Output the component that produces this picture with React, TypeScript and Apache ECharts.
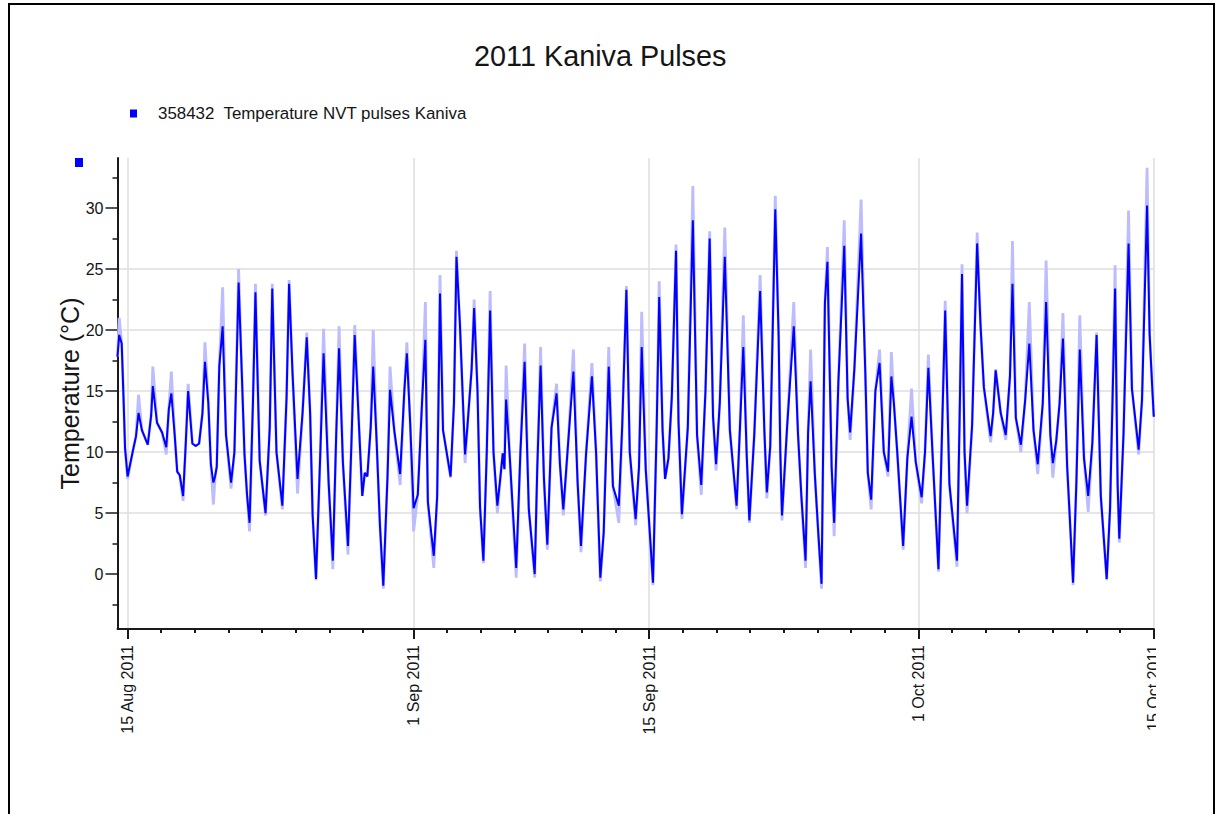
import React, { useEffect, useRef } from 'react';
import * as echarts from 'echarts';

// ---- texts ----
const chartTitle = '2011 Kaniva Pulses';
const seriesName = '358432  Temperature NVT pulses Kaniva';
const yAxisTitle = 'Temperature (°C)';

// ---- axis ticks (x in days since 15 Aug 2011 00:00) ----
const majorTickDays = [0, 17, 31, 47, 61];
const majorTickLabels = ['15 Aug 2011', '1 Sep 2011', '15 Sep 2011', '1 Oct 2011', '15 Oct 2011'];
const minorTickDays = [2, 4, 6, 8, 10, 12, 14, 19, 21, 23, 25, 27, 29, 33, 35, 37, 39, 41, 43, 45, 49, 51, 53, 55, 57, 59];
const yTickLabels = [0, 5, 10, 15, 20, 25, 30];

// ---- data: [day, temperature, pulse extreme (light trace, when it differs)] ----
const augTrace: number[][] = [
  [-0.6, 17.8], [-0.5, 19.6, 21.0], [-0.35, 18.9], [-0.25, 14.8], [-0.15, 10.3], [0.0, 8.0, 7.8], [0.3, 10.0], [0.5, 11.3],
  [0.65, 13.2, 14.7], [0.85, 11.8], [1.2, 10.6], [1.4, 13.0], [1.5, 15.4, 17.0], [1.75, 12.4], [2.05, 11.6], [2.3, 10.4, 9.8],
  [2.45, 13.5], [2.6, 14.8, 16.6], [2.8, 11.4], [2.95, 8.4], [3.1, 8.1], [3.3, 6.4, 6.0], [3.45, 10.5], [3.6, 15.0, 15.6],
  [3.85, 10.7], [4.05, 10.5], [4.25, 10.7], [4.45, 13.2], [4.6, 17.4, 19.0], [4.8, 14.0], [4.95, 9.0], [5.1, 7.5, 5.7],
  [5.2, 8.0], [5.3, 8.8], [5.45, 17.0], [5.65, 20.3, 23.5], [5.85, 11.4], [6.15, 7.5, 7.0], [6.35, 10.0], [6.6, 23.9, 25.0],
  [6.8, 16.0], [6.95, 9.8], [7.1, 6.5], [7.25, 4.2, 3.5], [7.45, 14.0], [7.6, 23.1, 23.8], [7.85, 9.3], [8.2, 5.0, 4.8],
  [8.45, 12.0], [8.6, 23.4, 23.8], [8.85, 10.0], [9.2, 5.6, 5.3], [9.45, 14.5], [9.6, 23.8, 24.1], [9.8, 16.6], [10.1, 7.8, 6.6],
  [10.4, 13.2], [10.65, 19.4, 19.8], [10.85, 13.2], [11.0, 4.8], [11.2, -0.4, -0.5], [11.45, 9.7], [11.65, 18.1, 20.1],
  [11.95, 7.5], [12.2, 1.1, 0.4], [12.4, 11.4], [12.57, 18.5, 20.3], [12.8, 9.1], [13.1, 2.3, 1.6], [13.3, 10.5],
  [13.5, 19.6, 20.4], [13.8, 10.8], [13.95, 6.4], [14.1, 8.3], [14.25, 8.0], [14.45, 12.0], [14.6, 17.0, 20.0], [14.8, 11.0],
  [15.0, 4.0], [15.2, -0.95, -1.2], [15.45, 8.0], [15.6, 15.1, 17.0], [15.85, 11.8], [16.2, 8.2, 7.3], [16.45, 15.0],
  [16.6, 18.1, 19.0], [16.8, 12.3],
];
const sepTrace1: number[][] = [
  [17.0, 5.4, 3.5], [17.25, 6.5], [17.5, 14.0], [17.7, 19.2, 22.3], [17.85, 5.9], [18.2, 1.5, 0.5], [18.4, 6.3],
  [18.57, 23.0, 24.5], [18.75, 11.8], [19.2, 8.0, 7.9], [19.4, 14.0], [19.55, 26.0, 26.5], [19.75, 20.6], [20.06, 9.8, 9.1],
  [20.2, 12.1], [20.45, 16.8], [20.6, 21.8, 22.5], [20.8, 15.0], [20.95, 5.5], [21.15, 1.1, 0.9], [21.35, 10.0],
  [21.55, 21.6, 23.2], [21.75, 10.0], [21.98, 5.6, 5.0], [22.15, 7.8], [22.3, 9.9], [22.4, 8.6], [22.5, 14.3, 17.1],
  [22.7, 10.0], [23.1, 0.5, -0.3], [23.35, 10.0], [23.6, 17.4, 18.9], [23.85, 5.3], [24.2, 0.0, -0.3], [24.35, 8.6],
  [24.55, 17.1, 18.6], [24.75, 7.8], [24.95, 2.4, 2.0], [25.2, 12.0], [25.5, 14.8, 15.6], [25.7, 9.0], [25.9, 5.3, 4.8],
  [26.2, 11.0], [26.5, 16.6, 18.4], [26.75, 7.5], [26.95, 2.3, 1.8], [27.25, 9.8], [27.6, 16.2, 17.3], [27.85, 9.9],
  [28.1, -0.3, -0.6], [28.3, 3.4], [28.6, 17.0, 18.6], [28.85, 7.2], [29.2, 5.6, 4.2], [29.4, 12.1], [29.65, 23.3, 23.6],
  [29.85, 10.0], [30.2, 4.5, 4.0], [30.4, 8.8], [30.56, 18.6, 21.5], [30.8, 8.6],
];
const sepTrace2: number[][] = [
  [31.23, -0.7, -0.9], [31.45, 12.0], [31.6, 22.7, 24.0], [31.8, 11.8], [31.95, 7.8], [32.15, 9.5], [32.35, 14.5],
  [32.6, 26.5, 27.0], [32.75, 12.4], [32.95, 4.9, 4.5], [33.3, 12.0], [33.6, 29.0, 31.8], [33.85, 11.4], [34.1, 7.3, 6.5],
  [34.35, 15.0], [34.6, 27.5, 28.1], [34.8, 12.9], [34.98, 9.0, 8.5], [35.2, 14.0], [35.5, 26.0, 28.4], [35.8, 11.8],
  [36.2, 5.6, 5.3], [36.4, 12.0], [36.6, 18.6, 21.2], [36.8, 9.8], [36.96, 4.4, 4.2], [37.25, 11.4], [37.6, 23.2, 24.5],
  [37.85, 11.8], [38.0, 6.7, 6.2], [38.2, 10.5], [38.5, 29.9, 31.0], [38.7, 19.5], [38.8, 9.9], [38.9, 4.8, 4.4],
  [39.2, 12.0], [39.6, 20.3, 22.3], [39.85, 11.5], [40.05, 6.4], [40.3, 1.1, 0.5], [40.45, 11.6], [40.6, 15.8, 18.4],
  [40.85, 8.2], [41.05, 3.5], [41.25, -0.8, -1.2], [41.45, 22.2], [41.6, 25.6, 26.8], [41.85, 8.8], [42.0, 4.2, 3.1],
  [42.25, 15.7], [42.6, 26.9, 29.0], [42.8, 14.4], [42.95, 11.6, 11.0], [43.2, 16.8], [43.6, 27.9, 30.7], [43.85, 16.6],
  [44.0, 8.3], [44.2, 6.1, 5.3], [44.45, 15.0], [44.7, 17.3, 18.4], [44.95, 10.0], [45.2, 8.4, 8.0], [45.4, 16.2, 18.2],
  [45.55, 14.0], [45.75, 10.0], [46.1, 2.3, 2.0], [46.35, 9.5], [46.6, 12.9, 15.2], [46.85, 9.2],
];
const octTrace: number[][] = [
  [47.2, 6.3, 5.8], [47.4, 10.0], [47.6, 16.9, 18.0], [47.85, 9.8], [48.2, 0.4, 0.2], [48.4, 11.0], [48.6, 21.6, 22.4],
  [48.85, 7.4], [49.3, 1.1, 0.6], [49.45, 12.2], [49.6, 24.6, 25.4], [49.75, 10.0], [49.9, 5.6, 5.0], [50.2, 12.2],
  [50.5, 27.1, 28.0], [50.7, 20.4], [50.9, 15.3], [51.3, 11.3, 10.8], [51.45, 13.2], [51.6, 16.7, 16.8], [51.9, 13.2],
  [52.2, 11.4, 11.0], [52.45, 16.2], [52.6, 23.8, 27.3], [52.8, 12.8], [53.1, 10.6, 10.0], [53.35, 14.2], [53.6, 18.9, 22.3],
  [53.85, 11.8], [54.1, 9.0, 8.2], [54.4, 14.0], [54.6, 22.3, 25.7], [54.85, 11.4], [55.0, 9.1, 7.9], [55.2, 10.9],
  [55.4, 14.0], [55.6, 19.3, 21.4], [55.85, 8.8], [56.0, 4.8], [56.2, -0.7, -0.9], [56.4, 7.6], [56.6, 18.4, 21.2],
  [56.85, 9.5], [57.1, 6.4, 5.1], [57.35, 10.8], [57.6, 19.6, 19.8], [57.85, 6.4], [58.2, -0.4, -0.5], [58.4, 5.4],
  [58.7, 23.4, 25.3], [58.85, 7.3], [58.95, 2.9, 2.6], [59.2, 11.5], [59.5, 27.1, 29.8], [59.7, 15.2], [60.1, 10.2, 9.8],
  [60.3, 14.3], [60.6, 30.2, 33.3], [60.75, 19.7], [60.9, 15.5], [61.0, 12.9],
];

const allPoints = [...augTrace, ...sepTrace1, ...sepTrace2, ...octTrace];
const tempData = allPoints.map((p) => [p[0], p[1]]);
const pulseData = allPoints.map((p) => [p[0], p.length > 2 ? p[2] : p[1]]);

const FONT = '"Liberation Sans", Arial, sans-serif';
const TXT = '#151515';

const option: any = {
  animation: false,
  backgroundColor: '#ffffff',
  textStyle: { fontFamily: FONT },
  title: {
    text: chartTitle,
    left: 474,
    top: 41,
    padding: 0,
    textStyle: { fontFamily: FONT, fontSize: 28.8, fontWeight: 'normal', color: TXT },
  },
  legend: {
    data: [seriesName],
    left: 130,
    top: 105,
    padding: 0,
    icon: 'rect',
    itemWidth: 7,
    itemHeight: 8,
    selectedMode: false,
    textStyle: { fontFamily: FONT, fontSize: 16.9, color: TXT, padding: [0, 0, 0, 16] },
  },
  grid: { left: 117.5, top: 158, right: 2.2, bottom: 185, containLabel: false, outerBoundsMode: 'none' },
  xAxis: [
    {
      type: 'value',
      min: -0.6,
      max: 61,
      position: 'bottom',
      axisLine: { show: true, onZero: false, lineStyle: { color: '#1a1a1a', width: 2 } },
      axisTick: { show: true, customValues: majorTickDays, length: 10, lineStyle: { color: '#1a1a1a', width: 2 } },
      axisLabel: {
        show: true,
        customValues: majorTickDays,
        rotate: 90,
        margin: 16,
        fontFamily: FONT,
        fontSize: 16,
        color: TXT,
        formatter: (v: number) => {
          const i = majorTickDays.indexOf(Math.round(v));
          return i >= 0 ? majorTickLabels[i] : '';
        },
      },
      splitLine: { show: true, lineStyle: { color: '#dedede', width: 1.5 } },
    },
    {
      type: 'value',
      min: -0.6,
      max: 61,
      position: 'bottom',
      axisLine: { show: false, onZero: false },
      axisTick: { show: true, customValues: minorTickDays, length: 4, lineStyle: { color: '#1a1a1a', width: 2 } },
      axisLabel: { show: false },
      splitLine: { show: false },
    },
  ],
  yAxis: {
    type: 'value',
    min: -4.5,
    max: 34.1,
    splitNumber: 8,
    name: yAxisTitle,
    nameLocation: 'middle',
    nameGap: 35,
    nameMoveOverlap: false,
    nameTextStyle: { fontFamily: FONT, fontSize: 25, color: TXT },
    axisLine: { show: true, onZero: false, lineStyle: { color: '#1a1a1a', width: 2 } },
    axisTick: { show: true, customValues: yTickLabels, length: 12, lineStyle: { color: '#1a1a1a', width: 1.5 } },
    minorTick: { show: true, splitNumber: 2, length: 5, lineStyle: { color: '#1a1a1a', width: 1.5 } },
    axisLabel: { show: true, customValues: yTickLabels, margin: 14, fontFamily: FONT, fontSize: 16, color: TXT },
    splitLine: { show: true, showMinLine: false, showMaxLine: false, lineStyle: { color: '#dedede', width: 1.5 } },
    minorSplitLine: { show: false },
  },
  graphic: [
    { type: 'rect', left: 75, top: 158, shape: { width: 8, height: 9 }, style: { fill: '#0000ff' }, silent: true },
  ],
  series: [
    {
      name: 'pulses',
      type: 'line',
      xAxisIndex: 0,
      data: pulseData,
      symbol: 'none',
      silent: true,
      z: 1,
      lineStyle: { color: '#bcbcff', width: 2.8 },
      itemStyle: { color: '#bcbcff' },
    },
    {
      name: seriesName,
      type: 'line',
      xAxisIndex: 0,
      data: tempData,
      symbol: 'none',
      z: 2,
      lineStyle: { color: '#0000ff', width: 2 },
      itemStyle: { color: '#0000ff' },
    },
  ],
};

export default function App() {
  const ref = useRef<HTMLDivElement>(null);
  useEffect(() => {
    if (!ref.current) return;
    const chart = echarts.init(ref.current, null, { renderer: 'svg' });
    chart.setOption(option);
    return () => chart.dispose();
  }, []);
  return (
    <div style={{ position: 'fixed', left: 0, top: 0, width: 1220, height: 814, overflow: 'hidden', background: '#fff' }}>
      <div style={{ position: 'absolute', left: 0, top: 0, width: 1156, height: 814, overflow: 'hidden' }}>
        <div ref={ref} style={{ position: 'absolute', left: 0, top: 0, width: 1156, height: 814 }} />
      </div>
      <div
        style={{
          position: 'absolute', left: 8, top: 3, width: 1207, height: 811, boxSizing: 'border-box',
          borderTop: '2px solid #000', borderLeft: '2px solid #000', borderRight: '2px solid #000', pointerEvents: 'none',
        }}
      />
    </div>
  );
}
